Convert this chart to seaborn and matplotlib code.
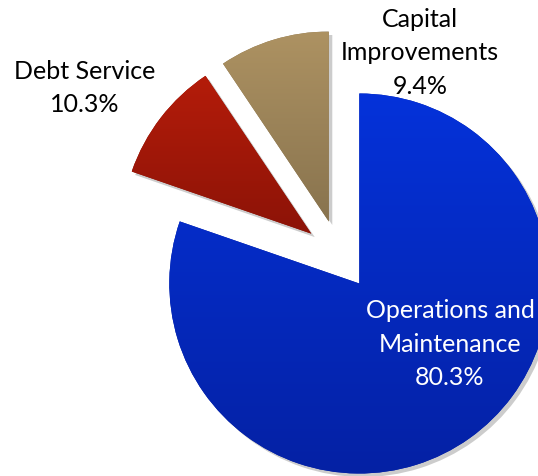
import numpy as np
import matplotlib
matplotlib.use("Agg")
import matplotlib.pyplot as plt
import matplotlib.patheffects as pe
import seaborn as sns

# Budget shares (percent), clockwise from 12 o'clock
categories = ["Operations and\nMaintenance", "Debt Service", "Capital\nImprovements"]
shares = [80.3, 10.3, 9.4]

# gradient end colours for each slice (top, bottom)
slice_colors = [("#0432DA", "#0521A4"), ("#B41C0A", "#8C1307"), ("#AD9262", "#88734E")]
label_colors = ["white", "black", "black"]

sns.set_theme(style="white")
plt.rcParams["font.family"] = ["Lato", "DejaVu Sans"]

W, H = 538, 476
fig = plt.figure(figsize=(W / 100, H / 100), dpi=100)
ax = fig.add_axes([0, 0, 1, 1])

center = (339, H - 255)
radius = 190
wedges, _ = ax.pie(shares, startangle=90, counterclock=False, center=center,
                   radius=radius, explode=[35] * len(shares),
                   colors=[c[1] for c in slice_colors],
                   wedgeprops=dict(linewidth=0))

for w, (top, bottom) in zip(wedges, slice_colors):
    w.set_path_effects([pe.SimplePatchShadow(offset=(2.5, -2.5), shadow_rgbFace="k", alpha=0.22),
                        pe.Normal()])
    x0, y0, x1, y1 = w.get_path().get_extents().extents
    cmap = sns.blend_palette([bottom, top], as_cmap=True)
    grad = np.linspace(0, 1, 256).reshape(-1, 1)
    im = ax.imshow(grad, cmap=cmap, origin="lower", extent=[x0, x1, y0, y1],
                   aspect="auto", interpolation="bilinear", zorder=w.get_zorder() + 0.1)
    im.set_clip_path(w)

# labels: x centre and first-line baseline of each text block
label_pos = [(450, H - 318), (85, H - 79), (420, H - 27)]
line_step = 33.5
for name, val, (lx, ly), col in zip(categories, shares, label_pos, label_colors):
    lines = name.split("\n") + [f"{val:.1f}%"]
    for i, line in enumerate(lines):
        ax.text(lx, ly - i * line_step, line, ha="center", va="baseline",
                fontsize=18, color=col, zorder=10)

ax.set_xlim(0, W)
ax.set_ylim(0, H)
ax.set_aspect("equal")
ax.axis("off")
fig.savefig("out.png", dpi=100)
